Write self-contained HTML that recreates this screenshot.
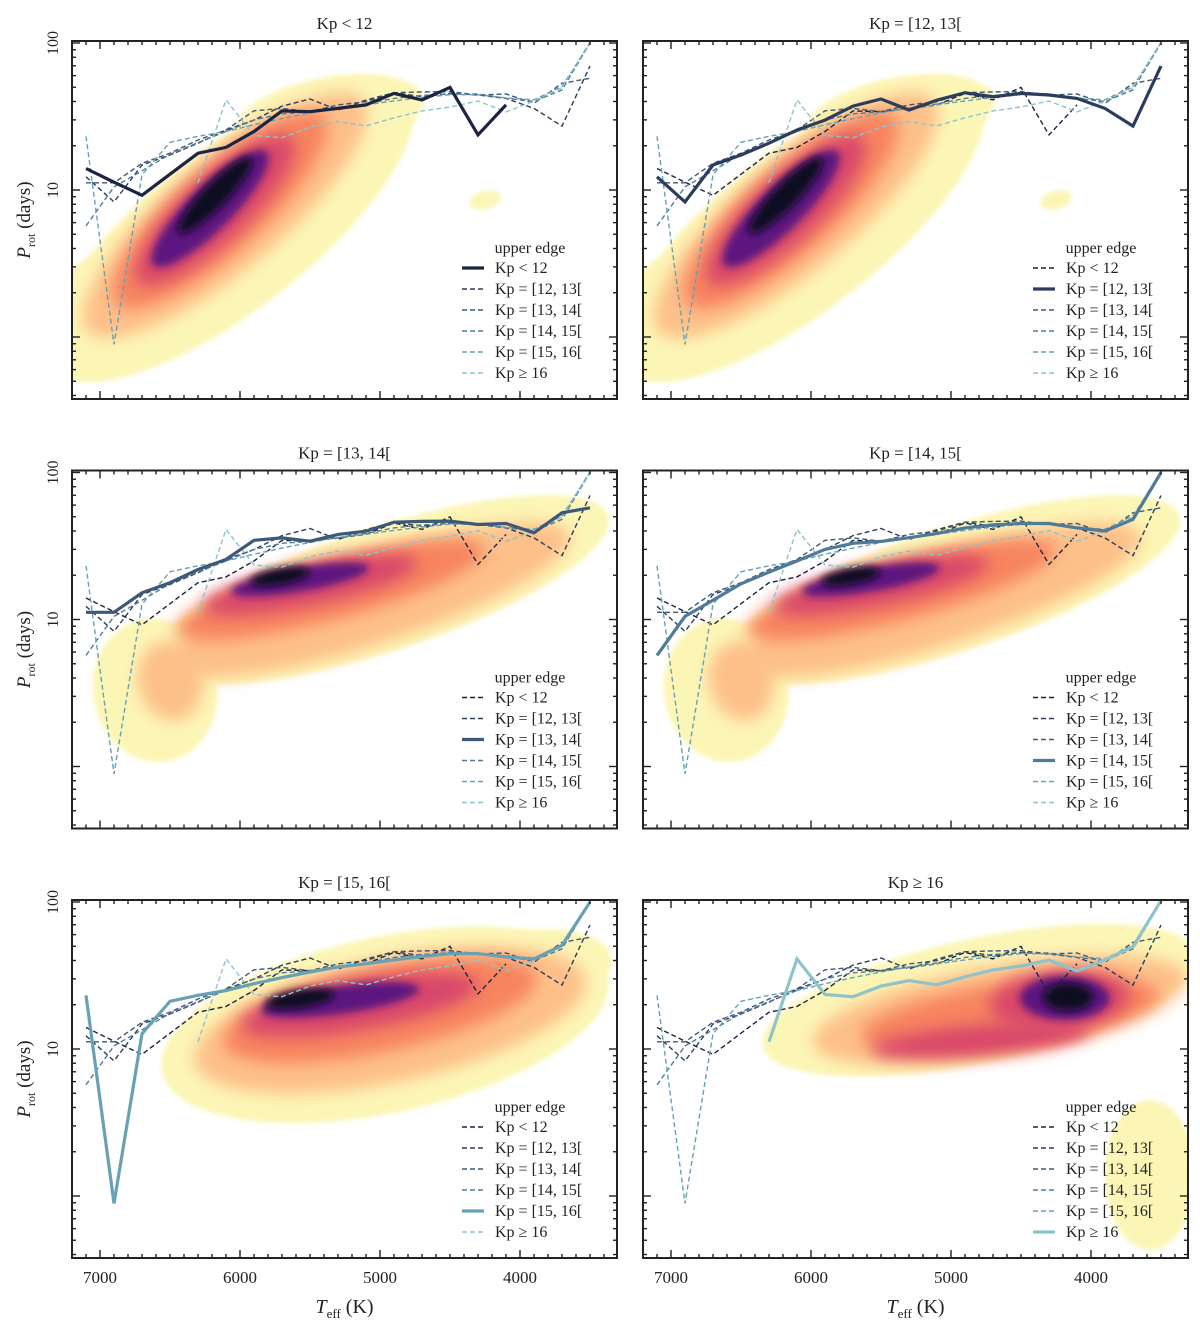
<!DOCTYPE html>
<html><head><meta charset="utf-8"><style>
body{margin:0;background:#fff;}
svg{display:block;font-family:"Liberation Serif","DejaVu Serif",serif;}
</style></head>
<body>
<svg id="fig" width="1200" height="1330" viewBox="0 0 1200 1330" xmlns="http://www.w3.org/2000/svg">
<defs>
<filter id="blur" x="-50%" y="-50%" width="200%" height="200%"><feGaussianBlur stdDeviation="8"/></filter>
<filter id="blur2" x="-50%" y="-50%" width="200%" height="200%"><feGaussianBlur stdDeviation="4"/></filter>
<filter id="blur0" x="-50%" y="-50%" width="200%" height="200%"><feGaussianBlur stdDeviation="2.5"/></filter>
</defs>
</svg>
<script>
// ---- data ----
const teffGrid = [7100,6900,6700,6500,6300,6100,5900,5700,5500,5300,5100,4900,4700,4500,4300,4100,3900,3700,3500];
const seriesNames = ["Kp < 12","Kp = [12, 13[","Kp = [13, 14[","Kp = [14, 15[","Kp = [15, 16[","Kp \u2265 16"];
const kpLt12   = [14,11.3,9.2,12.8,17.8,19.5,25,34.5,34.1,35.9,37.9,45.4,41,49.9,23.7,37.9,null,null,null];
const kp12to13 = [12.3,8.3,14.8,17.3,20.8,25.6,29.9,37.2,41.6,35,40.9,45.9,43.1,45.4,44.3,42,35.9,27.2,69.8];
const kp13to14 = [11.2,11.2,15.2,17.8,21.9,25.6,34.6,35.9,34.1,37.9,39.9,45.9,46.5,46.7,44.3,45,38.9,53.2,57.5];
const kp14to15 = [5.7,10.5,13.5,17.5,21,25,30,33,34,36,38.5,42,44,45,45,42,40,48,100];
const kp15to16 = [23.2,0.89,12.7,21.1,23.2,25,27.8,30.6,33.4,36.2,38,40.4,42.6,44.5,44.5,42.3,41.1,50.7,100];
const kpGe16   = [null,null,null,null,11.2,41,23.5,22.7,26.8,29.2,27.3,31,34.5,36.7,40.3,34,40.3,49.7,102];
const allSeries = [kpLt12,kp12to13,kp13to14,kp14to15,kp15to16,kpGe16];
const xTicks = [7000,6000,5000,4000];
const yTicks = [100,10];

// density blobs per panel: [Teff, Prot, layer]
const density12 = [[6071,5.35,0],[5357,32.4,0],[6900,1.6,0],[4250,8.55,0],[6107,6.76,1],[6143,7.3,2],[6179,7.3,3],[6214,7.5,4],[6179,9.2,5]];
const density34 = [[5000,15.9,0],[6607,3.3,0],[5071,13.6,1],[6500,3.8,1],[5357,15.9,2],[5500,17.2,3],[5571,18.7,4],[5714,19.6,5]];
const density5  = [[4964,14.6,0],[3857,37,0],[4929,15.7,1],[5000,18.4,2],[5143,20,3],[5286,21.6,4],[5571,21.9,5]];
const density6  = [[4793,21.5,0],[3579,1.39,0],[4650,18.4,1],[4579,17,2],[4793,11.5,3],[4221,21.5,3],[4186,22.2,4],[4164,22.6,5]];
// shapes (pixel half-sizes / rotation), kept separate from data
const shape12 = [[225,80,-38],[95,38,-10],[60,55,-20],[16,9,-15],[180,55,-40],[140,42,-42],[105,32,-43],[80,22,-45],[52,12,-46]];
const shape34 = [[240,62,-18],[62,72,-10],[210,45,-18],[32,40,-15],[160,30,-15],[110,20,-12],[70,12,-10],[30,8,-10]];
const shape5  = [[228,88,-12],[72,36,-5],[200,62,-12],[160,42,-12],[120,25,-10],[80,14,-8],[35,9,-8]];
const shape6  = [[222,62,-12],[45,75,0],[190,45,-10],[150,32,-8],[110,15,-5],[70,30,-5],[45,22,0],[25,14,0]];
const layerColors = ["#fcf6b6","#fdc089","#f7845f","#d8466b","#5d177f","#0b0724"];
const lineColors = ["#1c2440","#2d3c5c","#3e5878","#4f7b98","#68a1b3","#8fc3ca"];

// ---- layout ----
const svg = document.getElementById('fig');
const NS = "http://www.w3.org/2000/svg";
const colX0 = [72,643], colX7000 = [100,671], colW = 545;
const rowY10 = [190,619.5,1049];
const DEC = 147, KPX = 0.14;
function xScale(T,c){return colX7000[c] + (7000-T)*KPX;}
function yScale(P,r){return rowY10[r] - DEC*(Math.log10(P)-1);}
function el(tag,attrs,parent){const e=document.createElementNS(NS,tag);for(const k in attrs)e.setAttribute(k,attrs[k]);(parent||svg).appendChild(e);return e;}

const panels = [
 {r:0,c:0,hi:0,dens:density12,shp:shape12,title:"Kp < 12"},
 {r:0,c:1,hi:1,dens:density12,shp:shape12,title:"Kp = [12, 13["},
 {r:1,c:0,hi:2,dens:density34,shp:shape34,title:"Kp = [13, 14["},
 {r:1,c:1,hi:3,dens:density34,shp:shape34,title:"Kp = [14, 15["},
 {r:2,c:0,hi:4,dens:density5,shp:shape5,title:"Kp = [15, 16["},
 {r:2,c:1,hi:5,dens:density6,shp:shape6,title:"Kp \u2265 16"}
];

panels.forEach((p,pi)=>{
  const x0=colX0[p.c], x1=x0+colW, yT=rowY10[p.r]-149, yB=rowY10[p.r]+209;
  const g=el('g',{});
  
  
  const cp=el('clipPath',{id:'clip'+pi},svg.querySelector('defs'));
  el('rect',{x:x0,y:yT,width:colW,height:yB-yT},cp);
  // density
  const dg=el('g',{'clip-path':'url(#clip'+pi+')'},g);
  
  
  p.dens.forEach((d,i)=>{
    const cx=xScale(d[0],p.c), cy=yScale(d[1],p.r), s=p.shp[i];
    const f=d[2]===0?'url(#blur0)':(d[2]>=4?'url(#blur2)':'url(#blur)');
    const e=el('ellipse',{cx:cx,cy:cy,rx:s[0],ry:s[1],fill:layerColors[d[2]],transform:`rotate(${s[2]} ${cx} ${cy})`,filter:f},dg);
    
    
  });
  // lines
  const lg=el('g',{'clip-path':'url(#clip'+pi+')'},g);
  const order=[0,1,2,3,4,5].filter(i=>i!==p.hi).concat([p.hi]);
  order.forEach(si=>{
    let d='',pen=false;
    allSeries[si].forEach((v,k)=>{
      if(v==null){pen=false;return;}
      d+=(pen?'L':'M')+xScale(teffGrid[k],p.c).toFixed(1)+' '+yScale(v,p.r).toFixed(1)+' ';pen=true;
    });
    const hi=si===p.hi;
    const path=el('path',{d:d,fill:'none',stroke:lineColors[si],'stroke-width':hi?3.2:1.4,'stroke-dasharray':hi?'none':'5 3','stroke-linejoin':'miter'},lg);
    
    
  });
  // frame
  el('rect',{x:x0,y:yT,width:colW,height:yB-yT,fill:'none',stroke:'#222','stroke-width':2},g);
  // x ticks
  for(let T=7200;T>=3300;T-=100){
    const x=xScale(T,p.c); if(x<x0+1||x>x1-1)continue;
    const L=(T%1000===0)?8:4;
    el('line',{x1:x,x2:x,y1:yB,y2:yB-L,stroke:'#222','stroke-width':1.4},g);
    el('line',{x1:x,x2:x,y1:yT,y2:yT+L,stroke:'#222','stroke-width':1.4},g);
  }
  // y ticks
  [0.1,1,10,100].forEach(dec=>{
    for(let m=1;m<=9;m++){
      const P=dec*m, y=yScale(P,p.r); if(y<yT+1||y>yB-1)continue;
      const L=(m===1)?8:4;
      el('line',{x1:x0,x2:x0+L,y1:y,y2:y,stroke:'#222','stroke-width':1.4},g);
      el('line',{x1:x1,x2:x1-L,y1:y,y2:y,stroke:'#222','stroke-width':1.4},g);
    }
  });
  // title
  const t=el('text',{x:(x0+x1)/2,y:yT-12,'text-anchor':'middle','font-size':17,fill:'#222'},g);
  t.textContent=p.title;
  
  
  if(p.c===0){
    yTicks.forEach(v=>{
      const y=yScale(v,p.r);
      const tl=el('text',{x:0,y:0,'text-anchor':'middle','font-size':16,fill:'#222',transform:`translate(${x0-14},${y}) rotate(-90)`},g);
      tl.textContent=String(v);
      
      
    });
    const yl=el('text',{x:0,y:0,'text-anchor':'middle','font-size':19,fill:'#222',transform:`translate(30,${(yT+yB)/2}) rotate(-90)`},g);
    yl.innerHTML='<tspan font-style="italic">P</tspan><tspan font-size="12" dy="5">rot</tspan><tspan dy="-5"> (days)</tspan>';
    
    
  }
  if(p.r===2){
    xTicks.forEach(v=>{
      const tl=el('text',{x:xScale(v,p.c),y:yB+25,'text-anchor':'middle','font-size':17,fill:'#222'},g);
      tl.textContent=String(v);
      
      
    });
    const xl=el('text',{x:(x0+x1)/2,y:yB+55,'text-anchor':'middle','font-size':20,fill:'#222'},g);
    xl.innerHTML='<tspan font-style="italic">T</tspan><tspan font-size="13" dy="5">eff</tspan><tspan dy="-5"> (K)</tspan>';
    
    
  }
  // legend
  const lgd=el('g',{},g);
  
  
  const y10=rowY10[p.r];
  const lt=el('text',{x:x1-87,y:y10+63,'text-anchor':'middle','font-size':16,fill:'#222'},lgd);
  lt.textContent='upper edge';
  
  
  seriesNames.forEach((nm,si)=>{
    const yy=y10+78+21*si, hi=si===p.hi;
    const ln=el('line',{x1:x1-155,x2:x1-133,y1:yy,y2:yy,stroke:lineColors[si],'stroke-width':hi?3.2:1.4,'stroke-dasharray':hi?'none':'5 3'},lgd);
    
    
    const tx=el('text',{x:x1-122,y:yy+5,'font-size':16,fill:'#222'},lgd);
    tx.textContent=nm;
    
    
  });
});
</script>
</body></html>
